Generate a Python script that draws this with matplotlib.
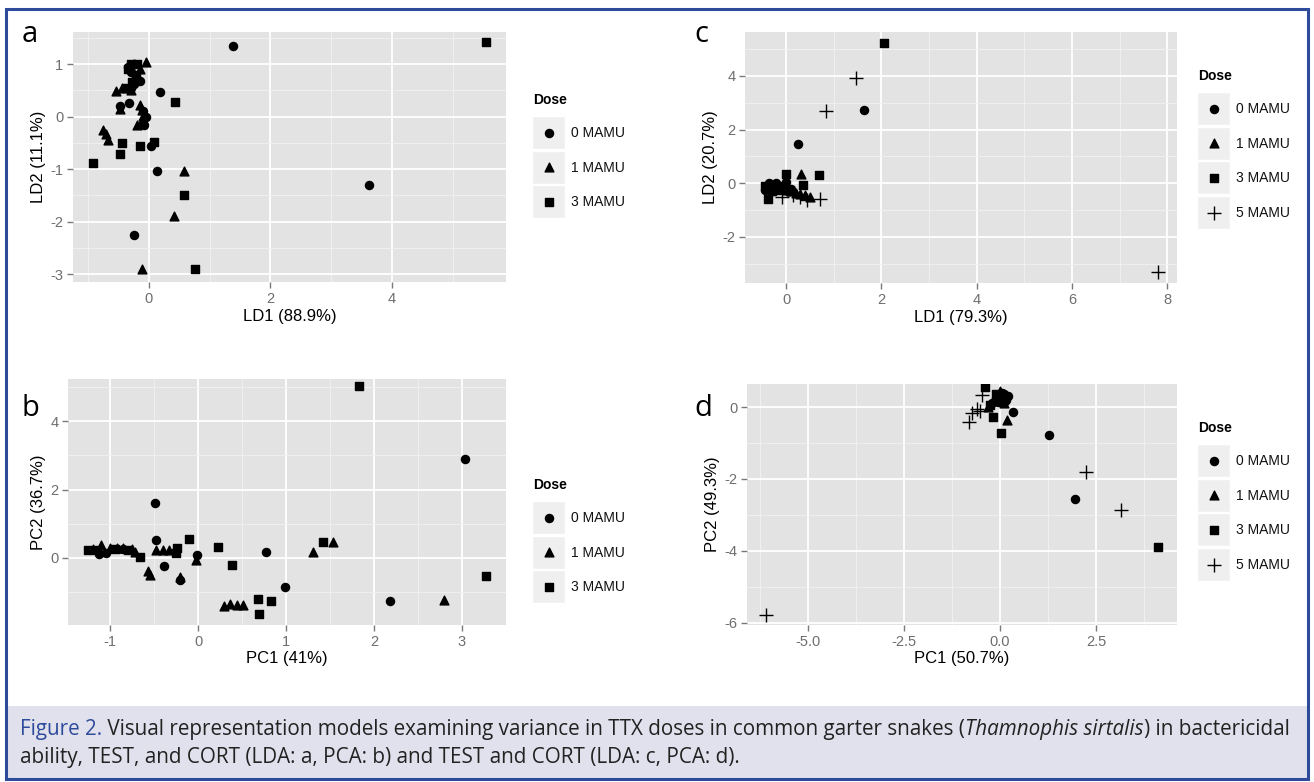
import numpy as np
import matplotlib
matplotlib.use("Agg")
import matplotlib.pyplot as plt
from matplotlib.patches import Rectangle

plt.rcParams['font.family'] = ['Liberation Sans', 'DejaVu Sans']

# ---- data ----
# panel a: LDA, bactericidal ability + TEST + CORT
a_x0 = [1.38, 3.62, 0.18, -0.32, -0.48, -0.08, 0.03, 0.14, -0.24,
        -0.35, -0.25, -0.30, -0.20, -0.25, -0.15, -0.30, -0.10, -0.05]
a_y0 = [1.34, -1.31, 0.47, 0.26, 0.20, -0.17, -0.57, -1.03, -2.25,
        0.95, 1.00, 0.85, 0.72, 0.62, 0.68, 0.55, 0.10, 0.00]
a_x1 = [-0.05, -0.55, -0.45, -0.48, -0.15, -0.12, -0.10, -0.10, -0.19, -0.75,
        -0.70, -0.67, 0.58, 0.41, -0.12, -0.20, -0.15, -0.30]
a_y1 = [1.03, 0.48, 0.55, 0.15, 0.22, 0.12, 0.02, -0.05, -0.17, -0.25,
        -0.34, -0.44, -1.04, -1.89, -2.90, 0.78, 0.90, 0.50]
a_x3 = [5.55, 0.43, -0.44, -0.48, -0.92, -0.14, 0.09, 0.58, 0.76,
        -0.30, -0.20, -0.35, -0.22, -0.28, -0.38]
a_y3 = [1.42, 0.28, -0.51, -0.72, -0.88, -0.57, -0.49, -1.49, -2.90,
        1.00, 1.00, 0.90, 0.80, 0.65, 0.55]

# panel b: PCA, bactericidal ability + TEST + CORT
b_x0 = [3.03, -0.49, -0.48, 0.77, 0.99, 2.18, -0.01, -0.39, -0.21, -1.13, -1.05, -0.85]
b_y0 = [2.90, 1.60, 0.51, 0.16, -0.85, -1.27, 0.09, -0.23, -0.64, 0.12, 0.15, 0.25]
b_x1 = [1.30, 1.53, 2.80, 0.29, 0.36, 0.44, 0.51, -0.03, -0.57, -0.55, -0.21,
        -0.48, -0.40, -0.33, -1.10, -1.00, -0.92, -0.85, -0.75, -0.72, -1.20]
b_y1 = [0.17, 0.46, -1.23, -1.40, -1.34, -1.37, -1.37, -0.06, -0.37, -0.50, -0.55,
        0.23, 0.22, 0.22, 0.39, 0.28, 0.30, 0.30, 0.25, 0.18, 0.25]
b_x3 = [1.83, -0.10, 0.23, 1.42, 3.27, 0.68, 0.83, 0.69, 0.38, -0.24, -0.25,
        -0.66, -1.25, -1.15, -0.95, -0.80]
b_y3 = [5.02, 0.55, 0.31, 0.46, -0.54, -1.21, -1.27, -1.65, -0.20, 0.28, 0.14,
        0.02, 0.23, 0.22, 0.25, 0.22]

# panel c: LDA, TEST + CORT
c_x0 = [1.64, 0.25, -0.40, -0.30, -0.20, -0.10, 0.00, -0.45, -0.25, 0.10, -0.15, -0.35, 0.05]
c_y0 = [2.74, 1.46, -0.20, -0.10, 0.00, -0.10, 0.05, -0.25, -0.30, -0.20, -0.25, 0.00, -0.30]
c_x1 = [0.31, 0.20, 0.30, 0.40, 0.10, -0.10, 0.50, 0.00]
c_y1 = [0.36, -0.35, -0.40, -0.45, -0.30, -0.20, -0.50, -0.25]
c_x3 = [2.06, 0.00, 0.69, 0.35, -0.37, -0.30, -0.20, -0.45]
c_y3 = [5.22, 0.36, 0.31, -0.05, -0.57, -0.30, -0.15, -0.10]
c_x5 = [1.47, 0.84, 0.71, 0.43, -0.09, 7.81, 0.30, 0.15]
c_y5 = [3.93, 2.70, -0.57, -0.61, -0.51, -3.31, -0.50, -0.45]

# panel d: PCA, TEST + CORT
d_x0 = [1.95, 1.28, 0.35, 0.00, 0.10, -0.10, 0.05, 0.15, -0.20, -0.05, 0.20]
d_y0 = [-2.56, -0.79, -0.13, 0.30, 0.35, 0.25, 0.40, 0.20, 0.10, 0.15, 0.30]
d_x1 = [0.17, 0.00, -0.15, 0.10, -0.30, 0.05]
d_y1 = [-0.36, 0.45, 0.20, 0.10, 0.00, 0.25]
d_x3 = [4.12, 0.03, -0.17, -0.39, -0.10, 0.10, -0.25]
d_y3 = [-3.90, -0.73, -0.29, 0.55, 0.35, 0.20, 0.05]
d_x5 = [-6.09, 3.15, 2.24, -0.80, -0.74, -0.53, -0.48, -0.60]
d_y5 = [-5.79, -2.86, -1.81, -0.43, -0.16, -0.12, 0.33, -0.05]

doses3 = ['0 MAMU', '1 MAMU', '3 MAMU']
doses4 = ['0 MAMU', '1 MAMU', '3 MAMU', '5 MAMU']

# marker style per dose
mstyle = {
    '0 MAMU': dict(marker='o', s=34),
    '1 MAMU': dict(marker='^', s=40),
    '3 MAMU': dict(marker='s', s=30),
    '5 MAMU': dict(marker='+', s=110, linewidths=1.0),
}

W, H = 1314, 782
fig = plt.figure(figsize=(W / 100, H / 100), dpi=100)
fig.patch.set_facecolor('white')

# overlay in pixel coordinates for frame, caption and legends
bg = fig.add_axes([0, 0, 1, 1], zorder=0)
bg.set_xlim(0, W)
bg.set_ylim(H, 0)
bg.axis('off')

BLUE = '#2e4b9b'
bg.add_patch(Rectangle((6, 706), W - 12, 72, fc='#e1e1ee', ec='none'))
bg.add_patch(Rectangle((6, 9), W - 12, H - 12, fc='none', ec=BLUE, lw=2.2))


def px_axes(x0, y0, x1, y1):
    return fig.add_axes([x0 / W, 1 - y1 / H, (x1 - x0) / W, (y1 - y0) / H], zorder=1)


def gg_style(ax, xlim, ylim, xt, yt, xlabels, ylabels, xlab, ylab):
    ax.set_facecolor('#e3e3e3')
    for s in ax.spines.values():
        s.set_visible(False)
    ax.set_xticks(xt)
    ax.set_xticklabels(xlabels)
    ax.set_yticks(yt)
    ax.set_yticklabels(ylabels)
    dx = (xt[1] - xt[0]) / 2
    dy = (yt[1] - yt[0]) / 2
    ax.set_xticks(np.arange(xt[0] - dx * 3, xt[-1] + dx * 4, dx * 2), minor=True)
    ax.set_yticks(np.arange(yt[0] - dy * 3, yt[-1] + dy * 4, dy * 2), minor=True)
    ax.set_xlim(*xlim)
    ax.set_ylim(*ylim)
    ax.grid(which='major', color='white', lw=1.3)
    ax.grid(which='minor', color='#f2f2f2', lw=0.6)
    ax.set_axisbelow(True)
    ax.tick_params(which='major', length=4, width=1, color='#7a7a7a',
                   labelcolor='#6e6e6e', labelsize=10.5, pad=3)
    ax.tick_params(which='minor', length=0)
    ax.set_xlabel(xlab, fontsize=12, labelpad=2)
    ax.set_ylabel(ylab, fontsize=12, labelpad=3)


def scatter_groups(ax, groups, labels):
    for (gx, gy), lab in zip(groups, labels):
        ax.scatter(gx, gy, color='black', zorder=3, **mstyle[lab])


def legend(x0, y0, labels):
    bg.text(x0 + 1, y0, 'Dose', fontsize=10, fontweight='bold', va='center', ha='left')
    for i, lab in enumerate(labels):
        top = y0 + 16 + i * 34.7
        bg.add_patch(Rectangle((x0, top), 33, 33, fc='#efefef', ec='white', lw=1))
        bg.scatter([x0 + 16.5], [top + 16.5], color='black', **mstyle[lab])
        bg.text(x0 + 39, top + 17, lab, fontsize=10, va='center', ha='left', color='#111111')


# panel a
ax = px_axes(73, 32, 506, 282)
scatter_groups(ax, [(a_x0, a_y0), (a_x1, a_y1), (a_x3, a_y3)], doses3)
gg_style(ax, (-1.25, 5.88), (-3.15, 1.61), [0, 2, 4], [-3, -2, -1, 0, 1],
         ['0', '2', '4'], ['-3', '-2', '-1', '0', '1'], 'LD1 (88.9%)', 'LD2 (11.1%)')
legend(532, 100, doses3)

# panel b
ax = px_axes(68, 379, 506, 625)
scatter_groups(ax, [(b_x0, b_y0), (b_x1, b_y1), (b_x3, b_y3)], doses3)
gg_style(ax, (-1.48, 3.5), (-1.96, 5.23), [-1, 0, 1, 2, 3], [0, 2, 4],
         ['-1', '0', '1', '2', '3'], ['0', '2', '4'], 'PC1 (41%)', 'PC2 (36.7%)')
legend(532, 485, doses3)

# panel c
ax = px_axes(745, 32, 1177, 283)
scatter_groups(ax, [(c_x0, c_y0), (c_x1, c_y1), (c_x3, c_y3), (c_x5, c_y5)], doses4)
gg_style(ax, (-0.86, 8.2), (-3.72, 5.64), [0, 2, 4, 6, 8], [-2, 0, 2, 4],
         ['0', '2', '4', '6', '8'], ['-2', '0', '2', '4'], 'LD1 (79.3%)', 'LD2 (20.7%)')
legend(1197, 76, doses4)

# panel d
ax = px_axes(747, 384, 1177, 625)
scatter_groups(ax, [(d_x0, d_y0), (d_x1, d_y1), (d_x3, d_y3), (d_x5, d_y5)], doses4)
gg_style(ax, (-6.59, 4.61), (-6.06, 0.64), [-5.0, -2.5, 0.0, 2.5], [-6, -4, -2, 0],
         ['-5.0', '-2.5', '0.0', '2.5'], ['-6', '-4', '-2', '0'], 'PC1 (50.7%)', 'PC2 (49.3%)')
legend(1197, 428, doses4)

# panel letters
for lx, ly, letter in [(22, 34, 'a'), (22, 408, 'b'), (694, 34, 'c'), (694, 408, 'd')]:
    bg.text(lx, ly, letter, fontsize=21, family='Open Sans', va='center', ha='left')

# caption, built from pieces and sized to span the box width
line1 = [('Figure 2.', BLUE, 'normal'),
         (' Visual representation models examining variance in TTX doses in common garter snakes (', '#222222', 'normal'),
         ('Thamnophis sirtalis', '#222222', 'italic'),
         (') in bactericidal', '#222222', 'normal')]
line2 = [('ability, TEST, and CORT (LDA: a, PCA: b) and TEST and CORT (LDA: c, PCA: d).', '#222222', 'normal')]

fig.canvas.draw()
renderer = fig.canvas.get_renderer()


def put_line(pieces, x, y, size):
    texts = []
    for txt, col, sty in pieces:
        t = bg.text(x, y, txt, color=col, style=sty, va='center', ha='left',
                    family='Open Sans', fontsize=size)
        x += t.get_window_extent(renderer=renderer).width
        texts.append(t)
    return x, texts


end, tmp = put_line(line1, 20, 728, 11.0)
for t in tmp:
    t.remove()
cap_size = 11.0 * (1296 - 20) / (end - 20)
put_line(line1, 20, 729, cap_size)
put_line(line2, 20, 758, cap_size)

fig.savefig('out.png', dpi=100)
